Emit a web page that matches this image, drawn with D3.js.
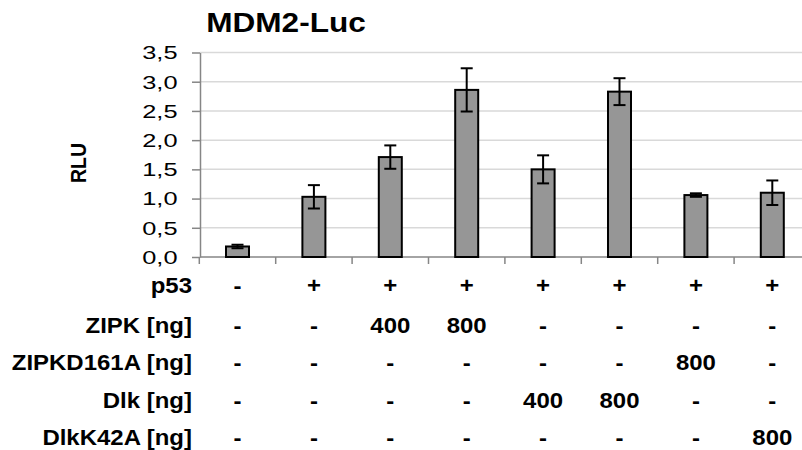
<!DOCTYPE html>
<html><head><meta charset="utf-8">
<script src="https://cdn.jsdelivr.net/npm/d3@7"></script>
<style>
html,body{margin:0;padding:0;background:#fff;}
svg{display:block;font-family:"Liberation Sans",Arial,sans-serif;}
</style></head>
<body>
<svg id="chart" width="802" height="450"></svg>
<script>
const categories = ["1","2","3","4","5","6","7","8"];
const rlu = [0.18, 1.03, 1.71, 2.86, 1.50, 2.83, 1.06, 1.10];
const rluErr = [0.03, 0.20, 0.20, 0.37, 0.24, 0.23, 0.03, 0.21];
const yTicks = [0, 0.5, 1.0, 1.5, 2.0, 2.5, 3.0, 3.5];
const rowLabels = ["p53", "ZIPK [ng]", "ZIPKD161A [ng]", "Dlk [ng]", "DlkK42A [ng]"];
const rowP53 = ["-","+","+","+","+","+","+","+"];
const rowZIPK = ["-","-","400","800","-","-","-","-"];
const rowZIPKD = ["-","-","-","-","-","-","800","-"];
const rowDlk = ["-","-","-","-","400","800","-","-"];
const rowDlkK = ["-","-","-","-","-","-","-","800"];
const titleText = "MDM2-Luc";
const yTitle = "RLU";

const svg = d3.select("#chart");
const x = d3.scaleBand().domain(categories).range([199.3, 810.5]).padding(0);
const y = d3.scaleLinear().domain([0, 3.5]).range([257, 52.5]);
const locale = d3.formatLocale({decimal: ",", thousands: ".", grouping: [3], currency: ["", ""]});
const fmt = locale.format(".1f");

// gridlines
svg.append("g").selectAll("line").data(yTicks.filter(d => d > 0)).join("line")
  .attr("x1", 200).attr("x2", 802)
  .attr("y1", d => y(d)).attr("y2", d => y(d))
  .attr("stroke", "#d9d9d9").attr("stroke-width", 1.5);

// y axis
const sY = 1.45;
const yAxis = svg.append("g").attr("transform", "translate(200,0)")
  .call(d3.axisLeft(y).tickValues(yTicks).tickFormat(fmt).tickSize(8).tickSizeOuter(0));
yAxis.select(".domain").attr("stroke", "#868686").attr("stroke-width", 1.5);
yAxis.selectAll(".tick line").attr("stroke", "#868686").attr("stroke-width", 1.5);
yAxis.selectAll(".tick text")
  .attr("font-size", 17.5).attr("fill", "#000")
  .attr("font-family", "'Liberation Sans',Arial,sans-serif")
  .attr("x", -22.5 / sY).attr("dy", "0.36em")
  .attr("transform", `scale(${sY},1)`);

// x axis baseline with ticks at band boundaries
const xAxis = svg.append("g").attr("transform", `translate(0,${y(0)})`);
xAxis.append("line").attr("x1", 200).attr("x2", 802).attr("y1", 0).attr("y2", 0)
  .attr("stroke", "#868686").attr("stroke-width", 1.5);
xAxis.selectAll("line.tk").data(categories).join("line").attr("class", "tk")
  .attr("x1", d => x(d)).attr("x2", d => x(d)).attr("y1", 0).attr("y2", 7)
  .attr("stroke", "#868686").attr("stroke-width", 1.5);

// bars
const barW = 23;
svg.append("g").selectAll("rect").data(categories).join("rect")
  .attr("x", d => x(d) + x.bandwidth() / 2 - barW / 2)
  .attr("y", (d, i) => y(rlu[i]))
  .attr("width", barW)
  .attr("height", (d, i) => y(0) - y(rlu[i]))
  .attr("fill", "#969696").attr("stroke", "#000").attr("stroke-width", 2);

// error bars
const eg = svg.append("g").attr("stroke", "#000").attr("stroke-width", 2);
categories.forEach((c, i) => {
  const cx = x(c) + x.bandwidth() / 2;
  const hi = y(rlu[i] + rluErr[i]), lo = y(rlu[i] - rluErr[i]);
  eg.append("line").attr("x1", cx).attr("x2", cx).attr("y1", hi).attr("y2", lo);
  eg.append("line").attr("x1", cx - 6).attr("x2", cx + 6).attr("y1", hi).attr("y2", hi);
  eg.append("line").attr("x1", cx - 6).attr("x2", cx + 6).attr("y1", lo).attr("y2", lo);
});

// title
svg.append("text").attr("transform", "translate(286,32) scale(1.17,1)")
  .attr("text-anchor", "middle").attr("font-weight", "bold").attr("font-size", 27)
  .text(titleText);

// y title
svg.append("text").attr("transform", "translate(86,163) scale(1.1,1) rotate(-90)")
  .attr("text-anchor", "middle").attr("font-weight", "bold").attr("font-size", 19.5)
  .text(yTitle);

// table
const rows = [rowP53, rowZIPK, rowZIPKD, rowDlk, rowDlkK];
const rowBase = [293, 333, 370, 408, 445];
const sT = 1.09;
const tg = svg.append("g").attr("font-weight", "bold").attr("font-size", 22);
rows.forEach((row, r) => {
  tg.append("text").attr("transform", `translate(192,${rowBase[r]}) scale(${sT},1)`)
    .attr("text-anchor", "end").text(rowLabels[r]);
  tg.selectAll(null).data(row).join("text")
    .attr("transform", (d, i) => `translate(${x(categories[i]) + x.bandwidth() / 2},${rowBase[r]}) scale(${sT},1)`)
    .attr("text-anchor", "middle").text(d => d);
});
</script>
</body></html>
